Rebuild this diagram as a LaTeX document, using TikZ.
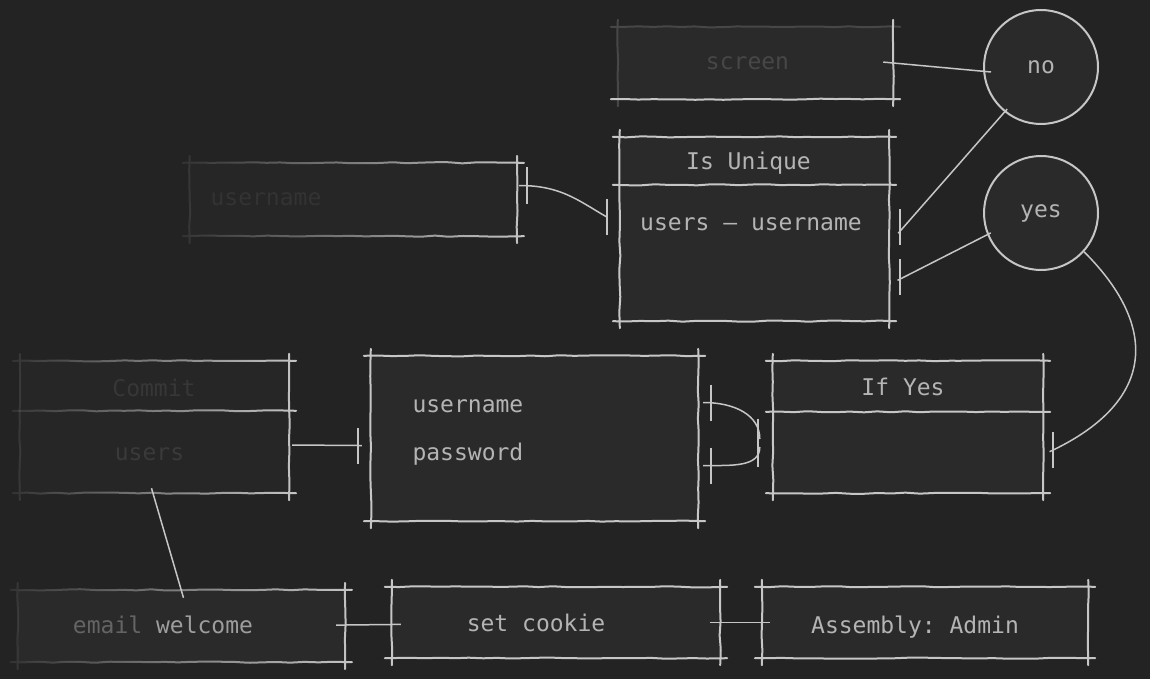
\documentclass[tikz,border=0pt]{standalone}
\usepackage{fontspec}
\setmonofont{DejaVu Sans Mono}
\usepackage{xcolor}
\usetikzlibrary{calc,decorations.pathmorphing,fadings}
\definecolor{bgcol}{HTML}{232323}
\definecolor{boxcol}{HTML}{2A2A2A}
\definecolor{chalk}{HTML}{C6C6C6}
\definecolor{txt}{HTML}{B4B4B4}
\tikzfading[name=fadeleft, left color=transparent!90, right color=transparent!0]
\tikzset{
  box/.style={rectangle,fill=boxcol,inner sep=0pt},
  bubble/.style={circle,fill=boxcol,draw=chalk,line width=2pt,minimum size=114pt,inner sep=0pt,
    text=txt,font=\ttfamily\fontsize{23}{27}\selectfont},
  chalkline/.style={draw=chalk,line width=2pt,line cap=round,rounded corners=1pt,decorate,
    decoration={random steps,segment length=14pt,amplitude=0.6pt}},
  wire/.style={draw=chalk,line width=1.5pt},
  tickmark/.style={draw=chalk,line width=1.6pt},
  lbl/.style={text=txt,font=\ttfamily\fontsize{23}{27}\selectfont,anchor=base},
  dimlbl/.style={lbl,text=#1}
}
\newcommand{\sketchbox}[2][]{%
  \draw[chalkline,#1] ($(#2.north west)+(-7,0)$) -- ($(#2.north east)+(7,0)$)
    ($(#2.south west)+(-7,0)$) -- ($(#2.south east)+(7,0)$)
    ($(#2.north west)+(0,-7)$) -- ($(#2.south west)+(0,7)$)
    ($(#2.north east)+(0,-7)$) -- ($(#2.south east)+(0,7)$);}
\newcommand{\splitline}[3][]{%
  \draw[chalkline,#1] ($(#2.north west)+(-7,#3)$) -- ($(#2.north east)+(7,#3)$);}

\begin{document}
\begin{tikzpicture}[x=1pt,y=-1pt]
\path[use as bounding box,fill=bgcol] (0,0) rectangle (1150,679);

% boxes
\node[box,minimum width=275pt,minimum height=72pt] (screen) at (755.5,63) {};
\node[box,minimum width=269pt,minimum height=184pt] (unique) at (754.5,229) {};
\node[box,fill=bgcol!60!boxcol,minimum width=327pt,minimum height=73pt] (uname) at (353.5,199.5) {};
\node[box,fill=bgcol!60!boxcol,minimum width=269pt,minimum height=132pt] (commit) at (154.5,427) {};
\node[box,minimum width=327pt,minimum height=165pt] (creds) at (534.5,438.5) {};
\node[box,minimum width=270pt,minimum height=132pt] (ifyes) at (908,427) {};
\node[box,minimum width=327pt,minimum height=72pt] (email) at (181.5,626) {};
\node[box,minimum width=328pt,minimum height=71pt] (cookie) at (556,622.5) {};
\node[box,minimum width=326pt,minimum height=71pt] (admin) at (925,622.5) {};
\node[bubble] (no) at (1041,67) {no};
\node[bubble] (yes) at (1041,213) {yes};

\draw[chalkline,draw=chalk!22!bgcol] ($(screen.north west)+(-7,0)$) -- ($(screen.north east)+(7,0)$)
  ($(screen.north west)+(0,-7)$) -- ($(screen.south west)+(0,7)$);
\draw[chalkline] ($(screen.south west)+(-7,0)$) -- ($(screen.south east)+(7,0)$)
  ($(screen.north east)+(0,-7)$) -- ($(screen.south east)+(0,7)$);
\sketchbox{unique} \splitline{unique}{48}
\sketchbox[path fading=fadeleft]{uname}
\sketchbox[path fading=fadeleft]{commit} \splitline[path fading=fadeleft]{commit}{50}
\sketchbox{creds}
\sketchbox{ifyes} \splitline{ifyes}{51}
\sketchbox[path fading=fadeleft]{email}
\sketchbox{cookie}
\sketchbox{admin}

% texts
\node[dimlbl=chalk!22!bgcol] (screentxt) at (747.5,70) {screen};
\node[lbl] (uniquetitle) at (748.5,170) {Is Unique};
\node[lbl] (uniquebody) at (751,230) {users – username};
\node[dimlbl=chalk!10!bgcol] (unametxt) at (266,205) {username};
\node[dimlbl=chalk!12!bgcol] (committitle) at (154,396) {Commit};
\node[dimlbl=chalk!14!bgcol] (commitbody) at (149.5,460) {users};
\node[lbl,anchor=base west] (credsuser) at (409,412) {username};
\node[lbl,anchor=base west] (credspass) at (409,460) {password};
\node[lbl] (ifyestitle) at (903,395) {If Yes};
\node[lbl] (emailtxt) at (163,633) {\textcolor{chalk!40!bgcol}{email} \textcolor{chalk!75!bgcol}{welcome}};
\node[lbl] (cookietxt) at (536,631) {set cookie};
\node[lbl] (admintxt) at (915,633) {Assembly: Admin};

% connector ends
\coordinate (u1) at ($(unique.east)+(11,-2)$);
\coordinate (u2) at ($(unique.east)+(11,48)$);
\coordinate (y1) at ($(ifyes.east)+(10,23)$);
\coordinate (n1) at ($(uname.east)+(10,-14)$);
\coordinate (n2) at ($(unique.west)+(-13,-12)$);
\coordinate (c1) at ($(creds.west)+(-13,7)$);
\coordinate (d1) at ($(creds.east)+(13,-36)$);
\coordinate (d2) at ($(creds.east)+(13,27)$);
\coordinate (d3) at ($(ifyes.west)+(-15,16)$);

% connectors
\draw[wire,shorten <=-10pt] (screen.east) -- ($(no.west)+(8,5)$);
\draw[wire,shorten <=-3pt,shorten >=-4pt] ($(u1)+(0,4)$) -- (no.231);
\draw[wire,shorten <=-3pt,shorten >=-4pt] ($(u2)+(0,2)$) -- (yes.202);
\draw[wire,shorten >=-4pt] (yes.318) to[out=-45,in=25,looseness=1.4] (y1);
\draw[wire,shorten <=-8pt] (n1) to[out=0,in=150] (n2);
\draw[wire,shorten >=-4pt] ($(commit.east)+(3,18)$) -- (c1);
\draw[wire] ($(commit.south)+(-3,-5)$) -- ($(email.north)+(2,8)$);
\draw[wire,shorten <=-8pt] (d1) to[out=0,in=90] ($(d3)+(2,-4)$);
\draw[wire,shorten <=-8pt] (d2) to[out=0,in=-90] ($(d3)+(2,4)$);
\draw[wire,shorten <=-9pt,shorten >=-9pt] ($(email.east)+(0,-1)$) -- ($(cookie.west)+(0,2)$);
\draw[wire,shorten <=-10pt,shorten >=-8pt] (cookie.east) -- (admin.west);
\foreach \t in {u1,u2,y1,n1,n2,c1,d1,d2}
  \draw[tickmark] ($(\t)+(0,-18)$) -- ($(\t)+(0,18)$);
\draw[tickmark] ($(d3)+(0,-24)$) -- ($(d3)+(0,24)$);
\end{tikzpicture}
\end{document}
